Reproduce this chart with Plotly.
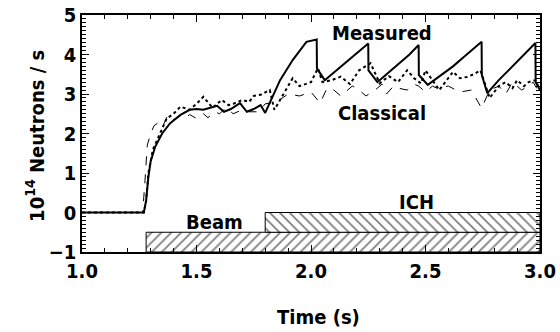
import plotly.graph_objects as go

# Measured (solid)
meas_t = [1.0, 1.27, 1.28, 1.29, 1.30, 1.32, 1.35, 1.385, 1.43, 1.47, 1.50, 1.53, 1.56, 1.59, 1.62, 1.65, 1.69, 1.72, 1.75, 1.78, 1.80,
          1.83, 1.865, 1.92, 1.98, 2.025, 2.026, 2.06, 2.10, 2.15, 2.20, 2.25, 2.251, 2.29, 2.33, 2.38, 2.43, 2.47, 2.471, 2.51,
          2.56, 2.62, 2.68, 2.745, 2.746, 2.77, 2.82, 2.87, 2.92, 2.98, 2.981, 3.0]
meas_v = [0.0, 0.0, 0.3, 0.9, 1.3, 1.67, 2.0, 2.26, 2.47, 2.6, 2.62, 2.6, 2.65, 2.7, 2.55, 2.62, 2.77, 2.55, 2.62, 2.72, 2.52,
          2.9, 3.35, 3.86, 4.32, 4.38, 3.65, 3.35, 3.55, 3.8, 4.05, 4.28, 3.6, 3.3, 3.5, 3.75, 4.0, 4.24, 3.48, 3.23,
          3.45, 3.7, 4.0, 4.32, 3.48, 3.02, 3.35, 3.65, 3.95, 4.29, 3.3, 3.1]

# Dotted model
dot_t = [1.0, 1.27, 1.28, 1.29, 1.31, 1.34, 1.37, 1.40, 1.43, 1.47, 1.50, 1.53, 1.57, 1.61, 1.64, 1.66, 1.70, 1.73, 1.75, 1.78, 1.82,
         1.84, 1.88, 1.92, 1.95, 1.98, 2.0, 2.03, 2.05, 2.09, 2.13, 2.17, 2.21, 2.26, 2.30, 2.34, 2.38, 2.42, 2.45, 2.48, 2.5,
         2.53, 2.56, 2.62, 2.65, 2.68, 2.71, 2.74, 2.78, 2.82, 2.85, 2.88, 2.9, 2.93, 2.95, 2.98, 3.0]
dot_v = [0.0, 0.0, 0.3, 1.0, 1.6, 2.0, 2.38, 2.5, 2.68, 2.6, 2.75, 2.93, 2.65, 2.85, 2.72, 2.75, 2.85, 2.8, 2.95, 2.98, 3.1,
         2.6, 3.0, 3.4, 3.2, 3.25, 3.3, 3.65, 3.3, 3.35, 3.44, 3.25, 3.6, 3.78, 3.27, 3.45, 3.3, 3.6, 3.4, 3.27, 3.6,
         3.35, 3.1, 3.56, 3.4, 3.43, 3.5, 3.6, 2.9, 3.2, 3.3, 3.15, 3.35, 3.2, 3.3, 3.35, 3.1]

# Classical (dashed)
cls_t = [1.0, 1.265, 1.275, 1.285, 1.30, 1.315, 1.33, 1.35, 1.375, 1.40, 1.43, 1.45, 1.47, 1.50, 1.53, 1.55, 1.58, 1.60, 1.63,
         1.66, 1.70, 1.73, 1.77, 1.80, 1.85, 1.90, 1.95, 2.0, 2.04, 2.07, 2.1, 2.13, 2.15, 2.18, 2.2, 2.24, 2.28, 2.31, 2.33, 2.36,
         2.38, 2.42, 2.45, 2.47, 2.5, 2.53, 2.55, 2.6, 2.65, 2.7, 2.745, 2.78, 2.82, 2.85, 2.88, 2.92, 2.95, 2.97, 3.0]
cls_v = [0.0, 0.0, 0.8, 1.7, 2.0, 2.2, 2.26, 2.15, 2.47, 2.35, 2.45, 2.38, 2.48, 2.38, 2.5, 2.4, 2.55, 2.5, 2.65,
         2.5, 2.6, 2.55, 2.55, 2.75, 2.8, 3.0, 2.95, 3.05, 2.77, 3.15, 3.1, 2.95, 3.05, 3.2, 3.15, 2.95, 3.1, 3.25, 3.0, 3.2,
         3.15, 3.1, 3.25, 3.2, 3.05, 3.2, 3.15, 3.2, 3.05, 3.1, 2.64, 3.1, 3.2, 3.0, 3.3, 3.1, 3.2, 3.3, 3.0]

# Heating phases: name, start, end, lower, upper
phase_names = ["Beam", "ICH"]
phase_start = [1.28, 1.80]
phase_end = [3.0, 3.0]
phase_low = [-1.0, -0.5]
phase_high = [-0.5, 0.0]
phase_hatch = ["/", "\\"]

X_TITLE = "Time (s)"
Y_TITLE = "10<sup>14</sup> Neutrons / s"

FONT = "DejaVu Sans Condensed, Liberation Sans Narrow, Liberation Sans, sans-serif"

def f(size=20):
    return dict(family=FONT, size=size, color="black", weight="bold")

fig = go.Figure()
for name, s, e, lo, hi, h in zip(phase_names, phase_start, phase_end, phase_low, phase_high, phase_hatch):
    fig.add_trace(go.Bar(
        orientation="h", y=[(lo + hi) / 2], x=[e - s], base=[s], width=[hi - lo],
        marker=dict(color="white", line=dict(color="black", width=1),
                    pattern=dict(shape=h, fgcolor="black", bgcolor="white", size=7, solidity=0.25)),
        showlegend=False, hoverinfo="skip"))

fig.add_trace(go.Scatter(x=cls_t, y=cls_v, mode="lines", line=dict(color="black", width=1, dash="dash"), showlegend=False))
fig.add_trace(go.Scatter(x=dot_t, y=dot_v, mode="lines", line=dict(color="black", width=2, dash="dot"), showlegend=False))
fig.add_trace(go.Scatter(x=meas_t, y=meas_v, mode="lines", line=dict(color="black", width=2), showlegend=False))

annots = [("Measured", 2.31, 4.54), ("Classical", 2.31, 2.52), ("Beam", 1.58, -0.25), ("ICH", 2.46, 0.27)]
for txt, x, y in annots:
    fig.add_annotation(x=x, y=y, text=txt, showarrow=False, font=f(20))

# axis titles placed as paper annotations
fig.add_annotation(xref="paper", yref="paper", x=0.517, y=-0.274, text=X_TITLE, showarrow=False,
                   xanchor="center", yanchor="middle", font=f(20))
fig.add_annotation(xref="paper", yref="paper", x=-0.1026, y=0.49, text=Y_TITLE, showarrow=False,
                   textangle=-90, xanchor="center", yanchor="middle", font=f(20))

axis_common = dict(showline=True, linecolor="black", linewidth=1.5, mirror="ticks", ticks="inside",
                   tickcolor="black", ticklen=7, tickwidth=1, showgrid=False, zeroline=False,
                   tickfont=f(20), automargin=False, ticklabeloverflow="allow")
fig.update_xaxes(range=[1.0, 3.0], dtick=0.5, tick0=1.0, tickformat=".1f",
                 minor=dict(dtick=0.1, ticks="inside", ticklen=4, tickcolor="black", showgrid=False),
                 **axis_common)
fig.update_yaxes(range=[-1.0, 5.0], dtick=1, tick0=0,
                 minor=dict(dtick=0.1, ticks="inside", ticklen=4, tickcolor="black", showgrid=False),
                 **axis_common)
fig.update_layout(width=560, height=332, margin=dict(l=82, r=20, t=15, b=80),
                  plot_bgcolor="white", paper_bgcolor="white", barmode="overlay",
                  font=dict(family=FONT, color="black"))
# remove the browser's default 8px body margin so the figure sits at the page origin
fig.write_html("out.html", config={"displayModeBar": False},
               post_script="document.body.style.margin='0';")
